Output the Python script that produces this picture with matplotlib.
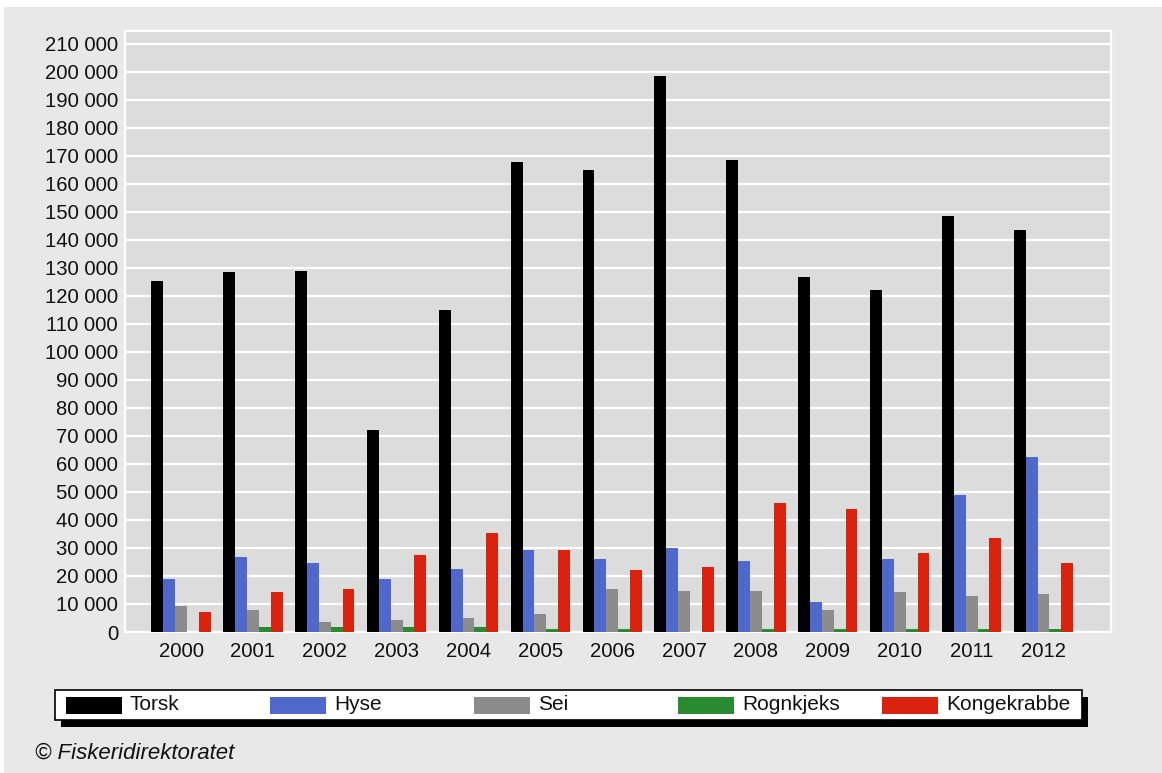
import numpy as np
import matplotlib
matplotlib.use("Agg")
from matplotlib import pyplot as plt
from matplotlib.patches import Rectangle
from matplotlib.ticker import FuncFormatter

plt.rcParams['font.family'] = ['Liberation Sans', 'DejaVu Sans']

# Data (tonnes)
years = ['2000', '2001', '2002', '2003', '2004', '2005', '2006',
         '2007', '2008', '2009', '2010', '2011', '2012']
torsk = [125300, 128500, 129000, 72100, 115000, 167800, 165000,
         198500, 168500, 126800, 122100, 148600, 143500]
hyse = [19000, 26800, 24600, 19000, 22500, 29300, 26000,
        30000, 25300, 10700, 26000, 48900, 62500]
sei = [9300, 7800, 3700, 4300, 5100, 6400, 15300,
       14700, 14700, 7800, 14200, 12800, 13400]
rognkjeks = [0, 1700, 1700, 1700, 1700, 900, 900,
             0, 900, 900, 900, 900, 900]
kongekrabbe = [7100, 14200, 15300, 27400, 35400, 29300, 22300,
               23100, 46100, 43900, 28200, 33600, 24500]

series = ['Torsk', 'Hyse', 'Sei', 'Rognkjeks', 'Kongekrabbe']
values = [torsk, hyse, sei, rognkjeks, kongekrabbe]
colors = ['#000000', '#5068cc', '#8c8c8c', '#2a8a2f', '#d9230f']

W, H = 1162, 773
fig = plt.figure(figsize=(W / 100, H / 100), dpi=100)
fig.patch.set_facecolor('white')
# light grey panel behind everything (thin white strip at top/left)
fig.patches.append(Rectangle((4 / W, 0), 1, 1 - 7 / H, transform=fig.transFigure,
                             facecolor='#e8e8e8', edgecolor='none', zorder=-10))

ax = fig.add_axes([125 / W, 1 - 632 / H, (1111 - 125) / W, (632 - 31) / H])
ax.set_facecolor('#dcdcdc')

x = np.arange(len(years))
bw = 0.165
for i, (name, vals, c) in enumerate(zip(series, values, colors)):
    ax.bar(x + (i - 2) * bw, vals, width=bw, color=c, label=name, zorder=3)

ax.set_xlim(-0.78, 12.94)
ax.set_ylim(0, 214600)
ax.set_yticks(np.arange(0, 210001, 10000))
ax.yaxis.set_major_formatter(FuncFormatter(lambda v, p: f"{int(v):,}".replace(",", " ")))
ax.set_xticks(x)
ax.set_xticklabels(years)
ax.tick_params(axis='both', length=0, labelsize=14.6, colors='#111111')
ax.tick_params(axis='x', pad=7)
ax.tick_params(axis='y', pad=5)
ax.grid(axis='y', color='white', linewidth=1.6, zorder=1)
ax.set_axisbelow(True)
for s in ax.spines.values():
    s.set_color('white')
    s.set_linewidth(1.6)

# legend box with black drop shadow
lx0, ly0, lx1, ly1 = 55, 690, 1082, 720
fig.patches.append(Rectangle(((lx0 + 6) / W, 1 - (ly1 + 7) / H), (lx1 - lx0) / W, (ly1 - ly0) / H,
                             transform=fig.transFigure, facecolor='black', edgecolor='none', zorder=1))
fig.patches.append(Rectangle((lx0 / W, 1 - ly1 / H), (lx1 - lx0) / W, (ly1 - ly0) / H,
                             transform=fig.transFigure, facecolor='white', edgecolor='black',
                             linewidth=1.2, zorder=2))
for i, (name, c) in enumerate(zip(series, colors)):
    px = 66 + i * 204
    fig.patches.append(Rectangle((px / W, 1 - 713.5 / H), 56 / W, 17 / H,
                                 transform=fig.transFigure, facecolor=c, edgecolor='none', zorder=3))
    fig.text((px + 64) / W, 1 - 705 / H, name, fontsize=15, va='center', ha='left',
             color='#111111', zorder=4)

fig.text(35 / W, 1 - 753 / H, '\u00a9 Fiskeridirektoratet', fontsize=16, style='italic',
         va='center', ha='left', color='#111111')

plt.savefig('out.png', dpi=100, facecolor=fig.get_facecolor())
